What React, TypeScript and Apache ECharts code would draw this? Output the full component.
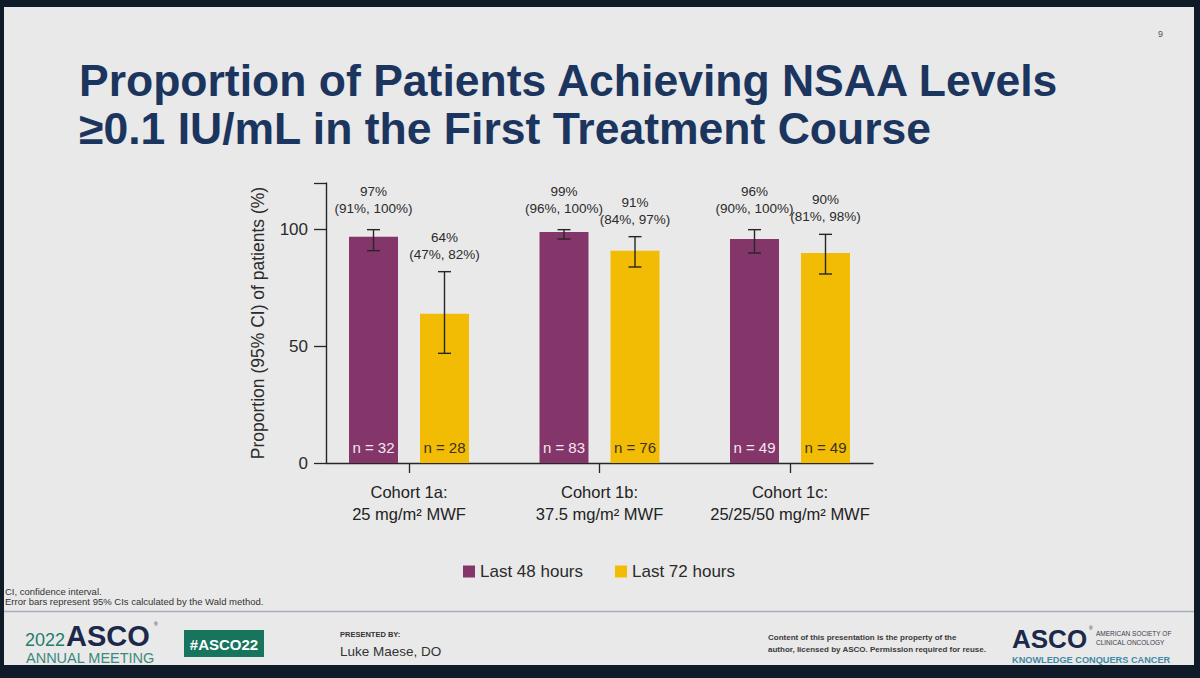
import React, { useEffect, useRef } from "react";
import * as echarts from "echarts";

const categories = [
  "Cohort 1a:\n25 mg/m² MWF",
  "Cohort 1b:\n37.5 mg/m² MWF",
  "Cohort 1c:\n25/25/50 mg/m² MWF",
];
const seriesNames = ["Last 48 hours", "Last 72 hours"];
const last48 = [97, 99, 96];
const last72 = [64, 91, 90];
const ci48Low = [91, 96, 90];
const ci48High = [100, 100, 100];
const ci72Low = [47, 84, 81];
const ci72High = [82, 97, 98];
const n48 = [32, 83, 49];
const n72 = [28, 76, 49];
const yTicks = [0, 50, 100];
const yMax = 120;

const FONT = "'Liberation Sans', Arial, Helvetica, sans-serif";
const PURPLE = "#84366B";
const YELLOW = "#F2BC05";
const BAR_W = 49;
const BAR_GAP = 22;
const TEXT = "#2b2b2b";

function errSeries(
  name: string,
  values: number[],
  lows: number[],
  highs: number[],
  sign: number,
  labelGap: number
) {
  return {
    type: "custom",
    name,
    xAxisIndex: 0,
    yAxisIndex: 0,
    z: 5,
    encode: { x: 0, y: [1, 2] },
    data: lows.map((lo, i) => [i, lo, highs[i]]),
    renderItem: (params: any, api: any) => {
      const idx = params.dataIndex;
      const c = api.value(0);
      const lo = api.value(1);
      const hi = api.value(2);
      const base = api.coord([c, 0]);
      const x = base[0] + sign * ((BAR_W + BAR_GAP) / 2);
      const yLo = api.coord([c, lo])[1];
      const yHi = api.coord([c, hi])[1];
      const ls = { stroke: "#262626", lineWidth: 1.4 };
      const cap = 6.5;
      return {
        type: "group",
        children: [
          { type: "line", shape: { x1: x, y1: yLo, x2: x, y2: yHi }, style: ls },
          { type: "line", shape: { x1: x - cap, y1: yHi, x2: x + cap, y2: yHi }, style: ls },
          { type: "line", shape: { x1: x - cap, y1: yLo, x2: x + cap, y2: yLo }, style: ls },
          {
            type: "text",
            x,
            y: yHi - labelGap,
            style: {
              text: `${values[idx]}%\n(${lows[idx]}%, ${highs[idx]}%)`,
              align: "center",
              verticalAlign: "bottom",
              fontSize: 13.5,
              lineHeight: 17,
              fill: TEXT,
              fontFamily: FONT,
            },
          },
        ],
      };
    },
  };
}

export default function App() {
  const ref = useRef<HTMLDivElement>(null);

  useEffect(() => {
    if (!ref.current) return;
    const chart = echarts.init(ref.current, undefined, { renderer: "svg" });

    const smallText = (text: string, x: number, y: number, extra: any = {}) => ({
      type: "text",
      x,
      y,
      silent: true,
      style: {
        text,
        fontFamily: FONT,
        fill: "#333",
        fontSize: 10,
        verticalAlign: "middle",
        ...extra,
      },
    });

    const option: any = {
      animation: false,
      backgroundColor: "#0f1b29",
      title: {
        text: "Proportion of Patients Achieving NSAA Levels\n≥0.1 IU/mL in the First Treatment Course",
        left: 74,
        top: 51,
        textStyle: {
          fontFamily: FONT,
          fontSize: 44.5,
          fontWeight: "bold",
          color: "#1B355E",
          lineHeight: 48,
        },
      },
      legend: {
        data: seriesNames,
        left: 458,
        top: 558,
        icon: "rect",
        itemWidth: 12,
        itemHeight: 12,
        itemGap: 32,
        textStyle: { fontFamily: FONT, fontSize: 17, color: TEXT },
      },
      grid: [
        { left: 313.75, right: 314.75, top: 183, bottom: 215 },
        { left: 326, right: 327, top: 183, bottom: 215 },
      ],
      xAxis: [
        {
          type: "category",
          gridIndex: 0,
          data: categories,
          axisLine: { show: false },
          axisTick: {
            show: true,
            alignWithLabel: true,
            length: 10,
            lineStyle: { color: "#262626", width: 1.3 },
          },
          axisLabel: {
            interval: 0,
            margin: 18,
            fontFamily: FONT,
            fontSize: 16.5,
            lineHeight: 22,
            color: "#222",
          },
        },
        {
          type: "value",
          gridIndex: 1,
          min: 0,
          max: 1,
          axisLine: { show: true, lineStyle: { color: "#262626", width: 1.4 } },
          axisTick: { show: false },
          axisLabel: { show: false },
          splitLine: { show: false },
        },
      ],
      yAxis: [
        {
          type: "value",
          gridIndex: 0,
          min: 0,
          max: yMax,
          show: false,
        },
        {
          type: "value",
          gridIndex: 1,
          min: 0,
          max: yMax,
          interval: 50,
          name: "Proportion (95% CI) of patients (%)",
          nameLocation: "middle",
          nameGap: 59,
          nameTextStyle: { fontFamily: FONT, fontSize: 17.5, color: TEXT },
          axisLine: { show: true, lineStyle: { color: "#262626", width: 1.4 } },
          axisTick: { show: true, length: 12, lineStyle: { color: "#262626", width: 1.3 } },
          axisLabel: {
            margin: 18,
            fontFamily: FONT,
            fontSize: 17,
            color: TEXT,
            formatter: (v: number) => (yTicks.includes(v) ? String(v) : ""),
          },
          splitLine: { show: false },
        },
      ],
      series: [
        {
          type: "bar",
          name: seriesNames[0],
          xAxisIndex: 0,
          yAxisIndex: 0,
          data: last48,
          barWidth: BAR_W,
          barGap: `${(BAR_GAP / BAR_W) * 100}%`,
          itemStyle: { color: PURPLE },
          label: {
            show: true,
            position: "insideBottom",
            distance: 8,
            fontFamily: FONT,
            fontSize: 15,
            color: "#f3e6ee",
            formatter: (p: any) => `n = ${n48[p.dataIndex]}`,
          },
        },
        {
          type: "bar",
          name: seriesNames[1],
          xAxisIndex: 0,
          yAxisIndex: 0,
          data: last72,
          barWidth: BAR_W,
          barGap: `${(BAR_GAP / BAR_W) * 100}%`,
          itemStyle: { color: YELLOW },
          label: {
            show: true,
            position: "insideBottom",
            distance: 8,
            fontFamily: FONT,
            fontSize: 15,
            color: "#3a3222",
            formatter: (p: any) => `n = ${n72[p.dataIndex]}`,
          },
        },
        errSeries("CI 48", last48, ci48Low, ci48High, -1, 13),
        errSeries("CI 72", last72, ci72Low, ci72High, 1, 9),
      ],
      graphic: [
        {
          type: "rect",
          z: -10,
          silent: true,
          shape: { x: 4, y: 7, width: 1190, height: 658 },
          style: { fill: "#E9E9E9" },
        },
        {
          type: "line",
          silent: true,
          shape: { x1: 4, y1: 611.5, x2: 1194, y2: 611.5 },
          style: { stroke: "#a7b0ba", lineWidth: 1.5 },
        },
        smallText("9", 1158, 34, { fontSize: 9, fill: "#555" }),
        smallText("CI, confidence interval.", 5, 591, { fontSize: 9.5 }),
        smallText("Error bars represent 95% CIs calculated by the Wald method.", 5, 601.5, {
          fontSize: 9.5,
        }),
        smallText("2022", 25, 640, { fontSize: 18, fill: "#1f7d6b" }),
        smallText("ASCO", 66, 636, {
          fontSize: 29,
          fontWeight: "bold",
          fill: "#1b2a4b",
        }),
        smallText("®", 154, 624, { fontSize: 5, fill: "#1b2a4b" }),
        smallText("ANNUAL MEETING", 26, 658, { fontSize: 14.5, fill: "#3b8a7c" }),
        {
          type: "rect",
          silent: true,
          shape: { x: 184, y: 630, width: 80, height: 27 },
          style: { fill: "#17755d" },
        },
        smallText("#ASCO22", 224, 644, {
          fontSize: 15,
          fontWeight: "bold",
          fill: "#ffffff",
          align: "center",
        }),
        smallText("PRESENTED BY:", 340, 634, { fontSize: 7.5, fontWeight: "bold", fill: "#333" }),
        smallText("Luke Maese, DO", 340, 651, { fontSize: 13.5, fill: "#333" }),
        smallText("Content of this presentation is the property of the", 768, 637.5, {
          fontSize: 8,
          fontWeight: "bold",
          fill: "#3a3a3a",
        }),
        smallText("author, licensed by ASCO. Permission required for reuse.", 768, 649.5, {
          fontSize: 8,
          fontWeight: "bold",
          fill: "#3a3a3a",
        }),
        smallText("ASCO", 1012, 639, {
          fontSize: 26,
          fontWeight: "bold",
          fill: "#1b2a4b",
        }),
        smallText("®", 1089, 628, { fontSize: 5, fill: "#1b2a4b" }),
        smallText("AMERICAN SOCIETY OF", 1096, 633, { fontSize: 6.5, fill: "#3a3a4a" }),
        smallText("CLINICAL ONCOLOGY", 1096, 642, { fontSize: 6.5, fill: "#3a3a4a" }),
        smallText("KNOWLEDGE CONQUERS CANCER", 1012, 659.5, {
          fontSize: 9.2,
          fontWeight: "bold",
          fill: "#3f8aa6",
        }),
      ],
    };

    chart.setOption(option);
    return () => chart.dispose();
  }, []);

  return (
    <div
      ref={ref}
      style={{ position: "fixed", left: 0, top: 0, width: 1200, height: 678 }}
    />
  );
}
